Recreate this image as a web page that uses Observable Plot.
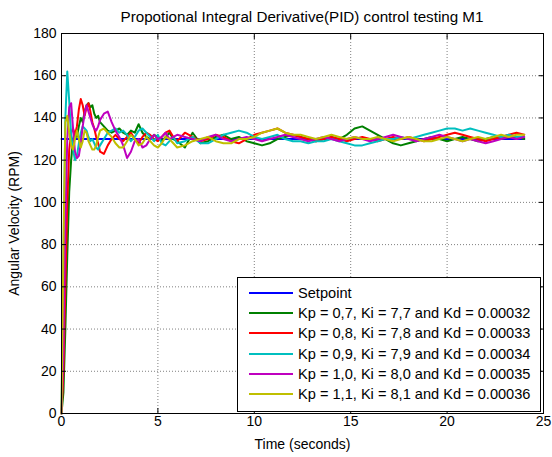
<!DOCTYPE html>
<html><head><meta charset="utf-8">
<script src="https://cdn.jsdelivr.net/npm/d3@7"></script>
<script src="https://cdn.jsdelivr.net/npm/@observablehq/plot@0.6"></script>
<style>
body{margin:0;background:#fff;}
#wrap{position:relative;width:552px;height:457px;font-family:"Liberation Sans",Arial,sans-serif;}
#legend{position:absolute;left:237px;top:277px;width:302px;height:128px;border:1px solid #000;background:#fff;padding-top:5px;box-sizing:content-box;}
#legend .row{height:20.2px;display:flex;align-items:center;font-size:14.6px;color:#000;white-space:nowrap;}
#legend svg{margin-left:11px;margin-right:5px;flex:none;}
</style></head>
<body><div id="wrap"></div>
<script>
const xTicks = [0, 5, 10, 15, 20, 25];
const yTicks = [0, 20, 40, 60, 80, 100, 120, 140, 160, 180];
const seriesNames = ["Setpoint",
  "Kp = 0,7, Ki = 7,7 and Kd = 0.00032",
  "Kp = 0,8, Ki = 7,8 and Kd = 0.00033",
  "Kp = 0,9, Ki = 7,9 and Kd = 0.00034",
  "Kp = 1,0, Ki = 8,0 and Kd = 0.00035",
  "Kp = 1,1, Ki = 8,1 and Kd = 0.00036"];
const seriesColors = ["#0000ff", "#008000", "#ff0000", "#00bfbf", "#bf00bf", "#bfbf00"];

const setpointTime = [0, 24];
const setpointValue = [130, 130];

const time = [0,0.1,0.2,0.3,0.4,0.5,0.6,0.7,0.8,0.9,1.0,1.1,1.2,1.3,1.4,1.5,1.6,1.7,1.8,1.9,2.0,
  2.2,2.4,2.6,2.8,3.0,3.2,3.4,3.6,3.8,4.0,4.2,4.4,4.6,4.8,5.0,5.2,5.4,5.6,5.8,6.0,
  6.4,6.8,7.2,7.6,8.0,8.4,8.8,9.2,9.6,10.0,10.4,10.8,11.2,11.6,12.0,12.4,12.8,13.2,13.6,14.0,
  14.4,14.8,15.2,15.6,16.0,16.4,16.8,17.2,17.6,18.0,18.4,18.8,19.2,19.6,20.0,20.4,20.8,21.2,21.6,22.0,
  22.4,22.8,23.2,23.6,24.0];

const green = [0,10,40,75,105,120,130,133,131,136,140,138,143,146,147,145,146,142,140,141,138,
  136,134,133,134,135,133,132,134,133,137,133,131,130,132,131,129,131,133,130,129,
  126,133,128,129,131,132,130,131,129,128,127,128,130,131,132,131,130,129,130,131,
  130,132,135,136,134,132,130,128,127,128,129,130,131,130,129,130,131,130,129,130,
  131,130,131,131,130];
const red = [0,20,60,100,125,133,135,132,136,144,149,146,141,145,147,143,138,135,131,128,124,
  123,127,130,132,130,129,131,133,130,128,131,133,132,130,129,131,133,134,131,129,
  133,131,129,130,132,131,129,128,130,132,133,134,135,133,132,131,130,129,130,131,
  130,129,130,131,130,129,130,131,130,131,130,129,130,131,132,133,132,131,130,129,
  130,131,132,133,132];
const cyan = [0,70,140,162,148,132,125,120,122,128,133,136,135,134,131,129,130,128,126,125,127,
  130,133,134,135,133,134,132,129,131,134,135,133,131,129,132,128,127,129,131,128,
  129,131,128,128,130,132,133,134,133,131,130,131,132,130,129,129,128,129,129,130,
  129,128,127,127,128,129,130,130,131,130,131,132,133,134,135,135,134,135,134,133,
  132,131,132,131,131];
const magenta = [0,30,90,130,145,147,135,124,121,122,128,136,142,146,143,140,137,135,134,136,139,
  142,143,138,134,131,127,121,124,129,130,126,127,130,132,130,131,133,130,131,132,
  131,130,129,131,132,130,129,130,131,130,129,130,131,132,131,130,129,130,131,130,
  129,130,131,130,129,130,131,132,131,130,129,130,131,132,131,130,129,130,129,128,
  129,130,131,130,131];
const yellow = [0,80,138,141,133,127,125,130,134,130,126,129,134,133,129,127,125,125,127,131,134,
  135,133,131,128,126,126,129,132,130,127,128,131,129,127,126,128,131,130,128,126,
  127,129,130,131,129,128,128,130,130,131,133,134,135,133,132,132,131,130,131,132,
  131,130,131,130,130,131,130,129,130,131,130,129,129,130,131,130,129,130,131,130,
  131,132,131,132,132];

const seriesValues = [green, red, cyan, magenta, yellow];
const rows = [];
setpointTime.forEach((t, j) => rows.push({t, v: setpointValue[j], s: seriesNames[0]}));
seriesValues.forEach((vals, i) => vals.forEach((v, j) => rows.push({t: time[j], v, s: seriesNames[i + 1]})));

const fontFamily = "'Liberation Sans', Arial, sans-serif";
const gridStyle = {stroke: "#000", strokeOpacity: 0.5, strokeDasharray: "1,2"};

const chart = Plot.plot({
  width: 552, height: 457,
  marginLeft: 61, marginRight: 9, marginTop: 33, marginBottom: 44,
  style: {fontFamily, fontSize: "14px", background: "#fff", color: "#000", overflow: "visible"},
  x: {domain: [0, 25]},
  y: {domain: [0, 180]},
  color: {domain: seriesNames, range: seriesColors},
  marks: [
    Plot.gridX(xTicks.slice(1, -1), gridStyle),
    Plot.gridY(yTicks.slice(1, -1), gridStyle),
    Plot.line(rows, {x: "t", y: "v", z: "s", stroke: "s", strokeWidth: 2}),
    Plot.frame({stroke: "#000", strokeWidth: 1}),
    Plot.axisX({ticks: xTicks, tickSize: -5, tickPadding: 8, label: "Time (seconds)", labelAnchor: "center", labelArrow: "none", labelOffset: 35}),
    Plot.axisX({anchor: "top", ticks: xTicks, tickSize: -5, tickFormat: () => "", label: null}),
    Plot.axisY({ticks: yTicks, tickSize: -5, tickPadding: 10, label: "Angular Velocity (RPM)", labelAnchor: "center", labelArrow: "none", labelOffset: 52}),
    Plot.axisY({anchor: "right", ticks: yTicks, tickSize: -5, tickFormat: () => "", label: null})
  ]
});

const wrap = document.getElementById("wrap");
wrap.appendChild(chart);

d3.select(chart).append("text")
  .attr("x", (61 + 543) / 2).attr("y", 22)
  .attr("text-anchor", "middle")
  .attr("font-family", fontFamily).attr("font-size", 15.2).attr("fill", "#000")
  .text("Propotional Integral Derivative(PID) control testing M1");

const legend = d3.select(wrap).append("div").attr("id", "legend");
seriesNames.forEach((name, i) => {
  const row = legend.append("div").attr("class", "row");
  const s = row.append("svg").attr("width", 44).attr("height", 4);
  s.append("line").attr("x1", 0).attr("x2", 44).attr("y1", 2).attr("y2", 2)
    .attr("stroke", seriesColors[i]).attr("stroke-width", 2);
  row.append("span").text(name);
});
</script>
</body></html>
